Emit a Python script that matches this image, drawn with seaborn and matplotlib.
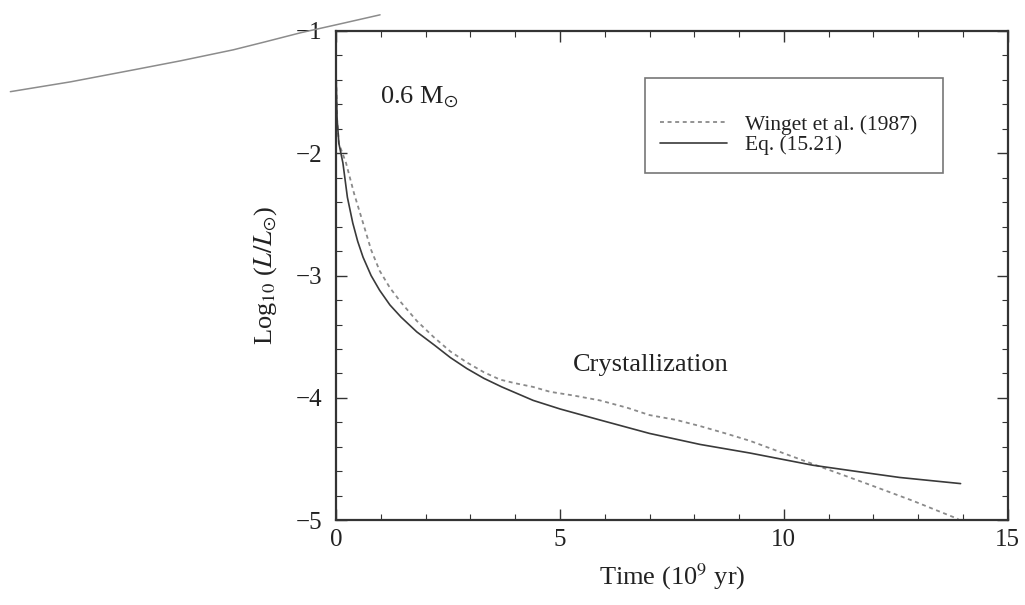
import matplotlib
matplotlib.use("Agg")
import matplotlib.pyplot as plt
import matplotlib.patches as mpatches
import seaborn as sns
import pandas as pd
from matplotlib.ticker import MultipleLocator

# ---- data ----
t_eq = [0.0, 0.02, 0.06, 0.15, 0.25, 0.37, 0.48, 0.60, 0.78, 0.97, 1.20, 1.45, 1.80,
        2.20, 2.55, 2.92, 3.30, 3.70, 4.40, 5.00, 5.89, 7.00, 8.13, 9.24, 10.65,
        12.00, 12.59, 13.95]
L_eq = [-1.40, -1.72, -1.92, -2.08, -2.36, -2.57, -2.72, -2.85, -3.00, -3.12, -3.24, -3.34, -3.46,
        -3.57, -3.67, -3.76, -3.84, -3.91, -4.02, -4.09, -4.18, -4.29, -4.38, -4.45, -4.55,
        -4.62, -4.65, -4.70]

t_winget = [0.0, 0.02, 0.06, 0.22, 0.40, 0.60, 0.78, 0.97, 1.20, 1.45, 1.80, 2.17, 2.55,
            2.92, 3.30, 3.66, 4.00, 4.40, 4.78, 5.30, 5.89, 6.50, 7.00, 7.60, 8.13, 8.70,
            9.24, 9.98, 10.80, 11.85, 12.88, 13.90]
L_winget = [-1.40, -1.72, -1.92, -2.08, -2.33, -2.57, -2.79, -2.96, -3.10, -3.22, -3.37, -3.50, -3.62,
            -3.71, -3.79, -3.85, -3.88, -3.91, -3.95, -3.98, -4.02, -4.08, -4.14, -4.18, -4.23, -4.29,
            -4.35, -4.45, -4.56, -4.70, -4.84, -4.99]

# stray curve from the neighbouring figure on the scanned page
t_stray = [-7.28, -5.94, -4.53, -3.48, -2.30, -1.59, -0.80, 0.09, 0.98]
L_stray = [-1.497, -1.417, -1.319, -1.245, -1.155, -1.090, -1.016, -0.943, -0.869]

x_ticks = [0, 5, 10, 15]
y_ticks = [-1, -2, -3, -4, -5]

sns.set_theme(style="ticks")
plt.rcParams["font.family"] = ["Liberation Serif", "DejaVu Serif"]
plt.rcParams["mathtext.fontset"] = "stix"

fig = plt.figure(figsize=(10.25, 6.05), dpi=100)
ax = fig.add_axes([0.328, 0.140, 0.655, 0.809])

df_w = pd.DataFrame({"t": t_winget, "L": L_winget})
df_e = pd.DataFrame({"t": t_eq, "L": L_eq})

sns.lineplot(data=df_w, x="t", y="L", ax=ax, color="#8a8a8a", lw=1.3,
             linestyle=(0, (2.2, 2.0)), label="Winget et al. (1987)",
             sort=False, estimator=None)
sns.lineplot(data=df_e, x="t", y="L", ax=ax, color="#3a3a3a", lw=1.2,
             label="Eq. (15.21)", sort=False, estimator=None)

ax.plot(t_stray, L_stray, color="#8c8c8c", lw=1.1, clip_on=False)

ax.set_xlim(0, 15)
ax.set_ylim(-5, -1)
ax.set_xticks(x_ticks)
ax.set_yticks(y_ticks)
ax.xaxis.set_minor_locator(MultipleLocator(1))
ax.yaxis.set_minor_locator(MultipleLocator(0.2))
ax.tick_params(which="both", direction="in", top=True, right=True,
               colors="#333333", labelcolor="#222222", labelsize=18)
ax.tick_params(which="major", length=8, width=1.0)
ax.tick_params(which="minor", length=4, width=0.8)
ax.tick_params(axis="y", which="major", pad=10)
ax.tick_params(axis="x", which="major", pad=6)
for s in ax.spines.values():
    s.set_linewidth(1.6)
    s.set_color("#333333")

ax.set_xlabel("Time (10$^9$ yr)", fontsize=19, color="#222222", labelpad=8)
ax.set_ylabel("Log$_{10}$ ($L/L_{\\odot}$)", fontsize=19, color="#222222", labelpad=12)

ax.text(0.98, -1.54, "0.6 M$_{\\odot}$", fontsize=19, color="#222222", va="center", ha="left")
ax.text(5.29, -3.73, "Crystallization", fontsize=19, color="#222222", va="center", ha="left")

leg = ax.legend(loc="upper left", bbox_to_anchor=(0.482, 0.829), fontsize=15.5,
                frameon=False, handlelength=3.1, handletextpad=0.85,
                borderpad=0, labelspacing=0.03, borderaxespad=0)
for txt in leg.get_texts():
    txt.set_color("#222222")
frame = mpatches.Rectangle((0.4598, 0.7096), 0.4435, 0.1943, transform=ax.transAxes,
                           fill=False, edgecolor="#777777", lw=1.2, zorder=4)
ax.add_patch(frame)

fig.savefig("out.png", dpi=100, facecolor="white")
